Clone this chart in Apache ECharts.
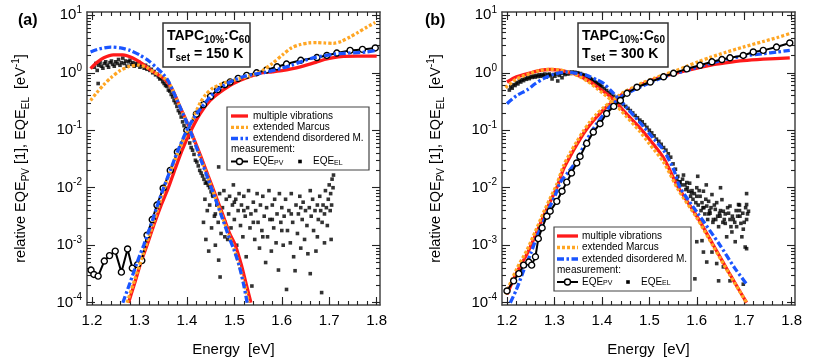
<!DOCTYPE html>
<html><head><meta charset="utf-8">
<script src="https://cdn.jsdelivr.net/npm/echarts@6/dist/echarts.min.js"></script>
<style>html,body{margin:0;padding:0;background:#fff}#c{width:830px;height:359px}</style>
</head><body><div id="c"></div>
<script>
// ---------- tick labels ----------
const xMajor = [1.2, 1.3, 1.4, 1.5, 1.6, 1.7, 1.8];
const yMajor = [1e-4, 1e-3, 1e-2, 1e-1, 1, 10];

// ---------- panel (a): T = 150 K ----------
const aMvEL = [[1.197,1.18],[1.21,1.5],[1.225,1.82],[1.245,2.05],[1.265,2.05],[1.285,1.82],[1.305,1.45],[1.323,1.12],[1.34,0.92],[1.355,0.75],[1.37,0.5],[1.385,0.26],[1.40,0.14],[1.415,0.07],[1.43,0.034],[1.445,0.016],[1.46,0.0075],[1.475,0.0035],[1.49,0.0016],[1.502,0.001],[1.515,0.00045],[1.525,0.00021],[1.535,0.0001]];
const aMarEL = [[1.197,0.33],[1.21,0.45],[1.225,0.62],[1.24,0.82],[1.26,1.1],[1.28,1.3],[1.298,1.36],[1.315,1.25],[1.33,1.02],[1.345,0.88],[1.36,0.72],[1.37,0.5],[1.385,0.26],[1.40,0.135],[1.415,0.066],[1.43,0.031],[1.445,0.0145],[1.46,0.0068],[1.475,0.0031],[1.49,0.0014],[1.50,0.00085],[1.512,0.0004],[1.522,0.0002],[1.53,0.0001]];
const aDisEL = [[1.197,2.3],[1.215,2.6],[1.24,2.8],[1.26,2.7],[1.28,2.45],[1.30,2.05],[1.32,1.6],[1.337,1.2],[1.35,0.95],[1.36,0.74],[1.37,0.5],[1.385,0.26],[1.40,0.135],[1.415,0.066],[1.43,0.03],[1.445,0.014],[1.46,0.0064],[1.475,0.0029],[1.49,0.0013],[1.50,0.0008],[1.51,0.00045],[1.52,0.0002],[1.527,0.0001]];
const aMvPV = [[1.277,0.0001],[1.29,0.00022],[1.303,0.0005],[1.316,0.001],[1.33,0.0022],[1.345,0.0048],[1.361,0.01],[1.375,0.021],[1.39,0.045],[1.407,0.093],[1.428,0.195],[1.449,0.33],[1.47,0.46],[1.498,0.65],[1.533,0.86],[1.554,0.98],[1.58,1.04],[1.603,1.1],[1.62,1.17],[1.639,1.27],[1.657,1.4],[1.674,1.55],[1.69,1.7],[1.709,1.84],[1.73,1.92],[1.76,1.95],[1.80,1.95]];
const aMarPV = [[1.274,0.0001],[1.29,0.00025],[1.31,0.0008],[1.33,0.0025],[1.353,0.01],[1.37,0.024],[1.39,0.06],[1.41,0.14],[1.428,0.3],[1.44,0.42],[1.456,0.55],[1.484,0.69],[1.512,0.79],[1.54,0.92],[1.56,1.1],[1.58,1.45],[1.603,2.1],[1.62,2.7],[1.639,3.1],[1.657,3.3],[1.674,3.35],[1.69,3.3],[1.709,3.25],[1.725,3.5],[1.744,4.2],[1.76,5.0],[1.779,6.2],[1.797,7.5]];
const aDisPV = [[1.265,0.0001],[1.28,0.00022],[1.295,0.0005],[1.309,0.001],[1.323,0.0021],[1.337,0.0047],[1.351,0.01],[1.365,0.02],[1.38,0.042],[1.40,0.1],[1.42,0.19],[1.449,0.38],[1.47,0.55],[1.498,0.74],[1.52,0.86],[1.54,0.94],[1.569,1.03],[1.6,1.2],[1.62,1.35],[1.64,1.55],[1.67,1.85],[1.709,2.1],[1.74,2.2],[1.779,2.3],[1.797,2.45]];
const aPV = [[1.198,3.7e-4],[1.204,3.1e-4],[1.213,2.9e-4],[1.226,5.3e-4],[1.237,6.6e-4],[1.249,7.9e-4],[1.262,3.4e-4],[1.275,8.6e-4],[1.285,4.0e-4],[1.296,4.6e-4],[1.305,5.4e-4],[1.316,1.5e-3],[1.327,2.8e-3],[1.337,5.0e-3],[1.35,0.0098],[1.365,0.02],[1.38,0.042],[1.40,0.1],[1.42,0.19],[1.435,0.28],[1.45,0.39],[1.465,0.51],[1.48,0.62],[1.491,0.69],[1.508,0.8],[1.526,0.9],[1.547,1.0],[1.568,1.12],[1.59,1.27],[1.61,1.42],[1.64,1.65],[1.674,1.84],[1.695,2.0],[1.716,2.2],[1.744,2.45],[1.77,2.55],[1.797,2.7]];
const aELpeak = [[1.205,1.25],[1.208,1.45],[1.211,1.1],[1.213,0.65],[1.214,1.35],[1.217,1.5],[1.22,1.3],[1.223,1.2],[1.226,1.45],[1.229,1.55],[1.232,1.35],[1.235,1.25],[1.238,1.5],[1.241,1.6],[1.244,1.4],[1.247,1.3],[1.25,1.55],[1.253,1.45],[1.256,1.7],[1.259,1.35],[1.262,1.5],[1.265,1.8],[1.268,1.45],[1.271,1.6],[1.274,1.3],[1.277,1.55],[1.28,1.65],[1.283,1.4],[1.286,1.5],[1.289,1.3],[1.292,1.45],[1.295,1.35],[1.298,1.55],[1.301,1.25],[1.304,1.4],[1.307,1.3],[1.31,1.2],[1.313,1.35],[1.316,1.15],[1.319,1.25],[1.322,1.1],[1.325,1.15],[1.328,1.0],[1.331,1.05],[1.334,0.92],[1.337,0.95],[1.34,0.85],[1.343,0.78],[1.346,0.8],[1.349,0.7],[1.352,0.65],[1.355,0.6],[1.358,0.58],[1.361,0.5],[1.364,0.48],[1.367,0.42],[1.37,0.38],[1.373,0.33],[1.376,0.3],[1.379,0.26],[1.382,0.22],[1.385,0.2],[1.388,0.17],[1.391,0.14],[1.394,0.12],[1.397,0.1],[1.40,0.085],[1.403,0.075],[1.406,0.06],[1.409,0.05],[1.412,0.045],[1.415,0.038],[1.418,0.03],[1.421,0.028],[1.424,0.024],[1.427,0.02],[1.43,0.018],[1.433,0.016],[1.436,0.014],[1.439,0.012],[1.442,0.0125],[1.445,0.011],[1.448,0.01],[1.451,0.0085],[1.454,0.0075]];
const aELtail = [[1.435,2.5e-3],[1.438,6.3e-3],[1.44,1.26e-3],[1.443,4.0e-3],[1.446,7.9e-4],[1.448,5.0e-3],[1.452,2.0e-3],[1.455,7.1e-3],[1.458,3.2e-3],[1.46,1.0e-3],[1.463,5.0e-3],[1.466,2.5e-3],[1.467,5.5e-4],[1.467,0.023],[1.469,7.9e-3],[1.47,2.8e-4],[1.472,1.6e-3],[1.475,4.5e-3],[1.478,8.9e-3],[1.48,2.5e-3],[1.483,6.3e-3],[1.486,1.26e-3],[1.488,3.5e-3],[1.49,7.1e-3],[1.493,2.0e-3],[1.496,5.0e-3],[1.498,0.0112],[1.5,2.8e-3],[1.503,6.3e-3],[1.505,1.0e-3],[1.508,4.0e-3],[1.51,7.9e-3],[1.513,2.2e-3],[1.515,5.0e-3],[1.518,1.4e-3],[1.52,7.1e-3],[1.523,3.2e-3],[1.525,6.3e-4],[1.528,4.5e-3],[1.53,8.9e-3],[1.533,2.0e-3],[1.535,3.5e-3],[1.537,1.95e-4],[1.54,5.6e-3],[1.543,1.26e-3],[1.545,4.0e-3],[1.548,7.9e-3],[1.55,2.5e-3],[1.553,8.9e-4],[1.555,5.0e-3],[1.558,1.8e-3],[1.56,7.1e-3],[1.563,3.2e-3],[1.566,5.0e-4],[1.568,4.5e-3],[1.57,1.4e-3],[1.573,8.9e-3],[1.575,2.8e-3],[1.578,7.9e-4],[1.58,5.0e-3],[1.583,2.0e-3],[1.585,6.3e-3],[1.588,1.1e-3],[1.59,3.5e-3],[1.593,3.7e-4],[1.595,7.9e-3],[1.598,2.5e-3],[1.6,4.5e-3],[1.603,1.0e-3],[1.605,3.2e-3],[1.608,6.3e-3],[1.61,1.7e-4],[1.612,1.8e-3],[1.615,4.0e-3],[1.618,1.1e-3],[1.62,7.9e-3],[1.623,2.5e-3],[1.625,6.3e-4],[1.628,3.6e-4],[1.63,5.0e-3],[1.633,1.6e-3],[1.635,3.5e-3],[1.638,7.1e-3],[1.64,8.9e-4],[1.643,2.8e-3],[1.645,5.6e-3],[1.648,1.26e-3],[1.65,4.0e-3],[1.653,2.2e-3],[1.655,7.1e-4],[1.658,4.5e-3],[1.66,3.2e-4],[1.662,3.2e-3],[1.665,6.3e-3],[1.667,1.8e-3],[1.67,4.0e-3],[1.672,7.9e-4],[1.675,5.0e-3],[1.677,2.8e-3],[1.68,7.1e-3],[1.682,4.0e-3],[1.684,1.5e-4],[1.685,2.5e-3],[1.687,5.0e-3],[1.69,3.5e-3],[1.692,8.9e-3],[1.694,4.5e-3],[1.696,2.2e-3],[1.698,6.3e-3],[1.7,0.0112],[1.702,4.0e-3],[1.703,7.9e-3],[1.705,5.0e-3],[1.706,0.0141],[1.708,0.01],[1.709,0.0166],[1.704,1.26e-3],[1.69,1.1e-3],[1.675,1.4e-3],[1.66,8.9e-3],[1.64,4.5e-3],[1.62,3.5e-3],[1.6,1.8e-3],[1.58,2.8e-3],[1.56,1.4e-3],[1.54,2.5e-3],[1.52,4.0e-3],[1.5,5.6e-3],[1.48,1.4e-3],[1.46,3.5e-3]];

// ---------- panel (b): T = 300 K ----------
const bMvEL = [[1.2,0.69],[1.22,0.85],[1.25,1.0],[1.27,1.1],[1.29,1.14],[1.31,1.11],[1.33,1.02],[1.35,0.9],[1.37,0.74],[1.39,0.57],[1.42,0.37],[1.45,0.2],[1.48,0.11],[1.50,0.07],[1.53,0.033],[1.56,0.0105],[1.6,0.0032],[1.635,0.001],[1.67,0.00031],[1.705,0.0001]];
const bMarEL = [[1.197,0.55],[1.22,0.78],[1.25,0.98],[1.27,1.1],[1.29,1.15],[1.31,1.12],[1.33,1.02],[1.35,0.88],[1.37,0.71],[1.39,0.53],[1.42,0.33],[1.45,0.18],[1.48,0.095],[1.50,0.058],[1.53,0.028],[1.56,0.0095],[1.6,0.003],[1.635,0.00095],[1.67,0.0003],[1.705,0.0001]];
const bDisEL = [[1.2,0.29],[1.22,0.4],[1.242,0.5],[1.26,0.65],[1.277,0.79],[1.3,0.95],[1.326,1.03],[1.35,0.97],[1.368,0.9],[1.39,0.75],[1.404,0.65],[1.42,0.48],[1.45,0.26],[1.488,0.115],[1.51,0.07],[1.53,0.045],[1.551,0.021],[1.565,0.01],[1.6,0.0038],[1.649,0.001],[1.68,0.0004],[1.707,0.0002]];
const bMvPV = [[1.2,1.4e-4],[1.22,3.3e-4],[1.242,7e-4],[1.26,1.5e-3],[1.277,3.2e-3],[1.29,5.5e-3],[1.305,0.01],[1.319,0.021],[1.333,0.035],[1.347,0.056],[1.361,0.087],[1.375,0.125],[1.389,0.17],[1.404,0.23],[1.418,0.29],[1.432,0.36],[1.446,0.44],[1.467,0.53],[1.488,0.65],[1.51,0.77],[1.53,0.87],[1.555,0.98],[1.579,1.1],[1.603,1.22],[1.628,1.35],[1.66,1.48],[1.698,1.62],[1.74,1.72],[1.796,1.82]];
const bMarPV = [[1.197,1.4e-4],[1.22,3.8e-4],[1.242,8.2e-4],[1.26,1.75e-3],[1.277,3.7e-3],[1.29,6.3e-3],[1.305,0.0115],[1.319,0.024],[1.333,0.04],[1.347,0.063],[1.361,0.097],[1.375,0.14],[1.389,0.19],[1.404,0.25],[1.418,0.31],[1.432,0.38],[1.446,0.46],[1.467,0.56],[1.488,0.68],[1.51,0.8],[1.53,0.92],[1.555,1.08],[1.579,1.3],[1.603,1.55],[1.628,1.85],[1.66,2.25],[1.698,2.8],[1.74,3.5],[1.77,4.1],[1.796,4.8]];
const bDisPV = [[1.207,1e-4],[1.22,1.7e-4],[1.235,3.6e-4],[1.25,7.2e-4],[1.263,1.4e-3],[1.277,2.6e-3],[1.291,4.8e-3],[1.302,7.5e-3],[1.312,0.0123],[1.33,0.019],[1.347,0.03],[1.368,0.068],[1.389,0.13],[1.404,0.19],[1.418,0.26],[1.432,0.33],[1.446,0.41],[1.467,0.5],[1.488,0.6],[1.51,0.72],[1.53,0.83],[1.555,0.98],[1.579,1.1],[1.603,1.27],[1.628,1.45],[1.66,1.7],[1.698,1.95],[1.74,2.15],[1.77,2.3],[1.796,2.45]];
const bPV = [[1.2,1.6e-4],[1.214,2.4e-4],[1.225,3.2e-4],[1.235,4.5e-4],[1.246,5.1e-4],[1.252,4.5e-4],[1.26,6.3e-4],[1.266,1.3e-3],[1.274,2.0e-3],[1.284,3.2e-3],[1.291,3.9e-3],[1.305,5.8e-3],[1.316,8.7e-3],[1.326,0.0125],[1.336,0.018],[1.347,0.027],[1.354,0.035],[1.368,0.059],[1.382,0.093],[1.396,0.13],[1.41,0.195],[1.425,0.26],[1.439,0.33],[1.453,0.44],[1.474,0.56],[1.502,0.69],[1.53,0.85],[1.551,0.98],[1.579,1.17],[1.607,1.35],[1.632,1.55],[1.653,1.7],[1.67,1.82],[1.698,2.0],[1.719,2.3],[1.74,2.45],[1.768,2.8],[1.796,3.3]];
const bELpeak = [[1.205,0.5],[1.208,0.57],[1.211,0.54],[1.214,0.62],[1.217,0.6],[1.22,0.67],[1.223,0.64],[1.226,0.72],[1.229,0.69],[1.232,0.76],[1.235,0.73],[1.238,0.8],[1.241,0.77],[1.244,0.83],[1.247,0.79],[1.25,0.86],[1.253,0.83],[1.256,0.88],[1.259,0.84],[1.262,0.9],[1.265,0.86],[1.268,0.92],[1.271,0.87],[1.274,0.93],[1.277,0.89],[1.28,0.95],[1.283,0.84],[1.286,0.92],[1.289,0.95],[1.292,0.89],[1.295,0.78],[1.298,0.93],[1.301,0.87],[1.304,0.96],[1.307,0.72],[1.31,0.9],[1.313,0.97],[1.316,0.82],[1.319,0.99],[1.322,0.93],[1.325,1.0],[1.328,0.95],[1.331,1.02],[1.334,0.97],[1.337,1.03],[1.34,1.0],[1.343,1.02],[1.346,0.98],[1.349,1.0],[1.352,0.96],[1.355,0.97],[1.358,0.93],[1.361,0.91],[1.364,0.9],[1.367,0.87],[1.37,0.85],[1.373,0.81],[1.376,0.79],[1.379,0.76],[1.382,0.73],[1.385,0.7],[1.388,0.67],[1.391,0.65],[1.394,0.62],[1.397,0.6],[1.4,0.57],[1.405,0.53],[1.41,0.49],[1.415,0.45],[1.42,0.42],[1.425,0.39],[1.43,0.36],[1.435,0.33],[1.44,0.3],[1.445,0.28],[1.45,0.26],[1.455,0.24],[1.46,0.22],[1.465,0.2],[1.47,0.18],[1.475,0.165],[1.48,0.15],[1.485,0.14],[1.49,0.125],[1.495,0.112],[1.5,0.1],[1.505,0.09],[1.51,0.08],[1.515,0.07],[1.52,0.064],[1.525,0.057],[1.53,0.05],[1.535,0.045],[1.54,0.039],[1.545,0.034],[1.55,0.026],[1.555,0.021]];
const bELtail = [[1.558,0.0141],[1.56,0.0158],[1.563,0.0126],[1.565,0.0126],[1.568,0.0112],[1.57,0.0141],[1.572,0.0166],[1.575,0.0112],[1.577,0.0093],[1.579,0.0123],[1.58,0.01],[1.583,0.0087],[1.585,0.012],[1.587,0.0071],[1.589,0.0081],[1.59,0.0089],[1.592,0.0063],[1.595,0.0079],[1.596,0.00026],[1.598,0.0055],[1.6,0.01],[1.6,0.0071],[1.6,0.00115],[1.602,0.0158],[1.603,0.005],[1.605,0.0089],[1.607,0.0071],[1.609,0.004],[1.611,0.0055],[1.611,0.0012],[1.613,0.0045],[1.614,0.0087],[1.614,0.00076],[1.615,0.0045],[1.617,0.0035],[1.619,0.0063],[1.62,0.0112],[1.621,0.0048],[1.621,0.00051],[1.623,0.0028],[1.625,0.0058],[1.625,0.0035],[1.627,0.004],[1.628,0.0036],[1.63,0.0045],[1.632,0.0076],[1.632,0.00076],[1.634,0.0025],[1.635,0.0028],[1.637,0.005],[1.639,0.0042],[1.64,0.0028],[1.642,0.0055],[1.642,0.00048],[1.644,0.0032],[1.646,0.0021],[1.646,0.00024],[1.648,0.0036],[1.649,0.0032],[1.65,0.004],[1.65,0.01],[1.653,0.0062],[1.655,0.0025],[1.656,0.0039],[1.656,0.00042],[1.658,0.0028],[1.66,0.0024],[1.66,0.0035],[1.663,0.0014],[1.665,0.0045],[1.667,0.0036],[1.67,0.0048],[1.67,0.00024],[1.67,0.0028],[1.672,0.0021],[1.674,0.0017],[1.675,0.0032],[1.677,0.0028],[1.68,0.0025],[1.681,0.00115],[1.683,0.004],[1.684,0.0021],[1.686,0.0032],[1.688,0.0051],[1.69,0.004],[1.69,0.005],[1.691,0.0032],[1.693,0.0024],[1.695,0.0014],[1.697,0.0036],[1.698,0.0019],[1.698,0.00021],[1.7,0.0025],[1.702,0.00093],[1.703,0.0045],[1.705,0.0028],[1.705,0.0051],[1.705,0.00087],[1.705,0.0079],[1.707,0.0035],[1.709,0.0039]];

// ---------- styling / layout ----------
const FONT = '"Liberation Sans", Arial, Helvetica, sans-serif';
const X_MIN = 1.1895, X_MAX = 1.807;
const Y_MIN = 9.12e-5, Y_MAX = 11.4;
const RED = '#ff1a1a', ORANGE = '#ffa624', BLUE = '#1a55ff';
const xMinor = []; for (let i = 0; i <= 30; i++) xMinor.push(+(1.2 + i * 0.02).toFixed(2));
const yMinor = []; for (let k = -4; k <= 0; k++) for (let m = 2; m <= 9; m++) yMinor.push(+(m * Math.pow(10, k)).toPrecision(3));

const FRAME = {color: '#444', width: 1.5};
const TICK = {color: '#222', width: 1.1};

function axesFor(g) {
  const xb = {type: 'value', gridIndex: g, min: X_MIN, max: X_MAX, splitLine: {show: false}, axisLabel: {show: false}, axisPointer: {show: false}};
  const yb = {type: 'log', logBase: 10, gridIndex: g, min: Y_MIN, max: Y_MAX, splitLine: {show: false}, axisLabel: {show: false}, axisPointer: {show: false}};
  const xs = [
    Object.assign({}, xb, {position: 'bottom', axisLine: {show: true, onZero: false, lineStyle: FRAME},
      axisTick: {show: true, inside: true, length: 8, customValues: xMajor, lineStyle: TICK},
      axisLabel: {show: true, customValues: xMajor, formatter: v => (+v).toFixed(1), margin: 8, fontSize: 15, color: '#000', fontFamily: FONT},
      name: 'Energy  [eV]', nameLocation: 'middle', nameGap: 37, nameMoveOverlap: false,
      nameTextStyle: {fontSize: 15, color: '#000', fontFamily: FONT}}),
    Object.assign({}, xb, {position: 'bottom', axisLine: {show: false, onZero: false}, axisTick: {show: true, inside: true, length: 4, customValues: xMinor, lineStyle: TICK}}),
    Object.assign({}, xb, {position: 'top', axisLine: {show: true, onZero: false, lineStyle: FRAME}, axisTick: {show: true, inside: true, length: 8, customValues: xMajor, lineStyle: TICK}}),
    Object.assign({}, xb, {position: 'top', axisLine: {show: false, onZero: false}, axisTick: {show: true, inside: true, length: 4, customValues: xMinor, lineStyle: TICK}})
  ];
  const ys = [
    Object.assign({}, yb, {position: 'left', axisLine: {show: true, onZero: false, lineStyle: FRAME},
      axisTick: {show: true, inside: true, length: 8, customValues: yMajor, lineStyle: TICK},
      axisLabel: {show: true, customValues: yMajor, margin: 5,
        formatter: v => '{m|10}{e|' + Math.round(Math.log10(v)) + '}',
        rich: {m: {fontSize: 15, lineHeight: 20, color: '#000', fontFamily: FONT}, e: {fontSize: 10, verticalAlign: 'top', color: '#000', fontFamily: FONT}}},
      name: '{t|relative EQE}{d|PV}{t| [1], EQE}{d|EL}{t|  [eV}{u|-1}{t|]}', nameLocation: 'middle', nameGap: 56, nameMoveOverlap: false,
      nameTextStyle: {rich: {t: {fontSize: 14.5, lineHeight: 20, color: '#000', fontFamily: FONT}, d: {fontSize: 10, verticalAlign: 'bottom', color: '#000', fontFamily: FONT}, u: {fontSize: 10, verticalAlign: 'top', color: '#000', fontFamily: FONT}}}}),
    Object.assign({}, yb, {position: 'left', axisLine: {show: false, onZero: false}, axisTick: {show: true, inside: true, length: 4, customValues: yMinor, lineStyle: TICK}}),
    Object.assign({}, yb, {position: 'right', axisLine: {show: true, onZero: false, lineStyle: FRAME}, axisTick: {show: true, inside: true, length: 8, customValues: yMajor, lineStyle: TICK}}),
    Object.assign({}, yb, {position: 'right', axisLine: {show: false, onZero: false}, axisTick: {show: true, inside: true, length: 4, customValues: yMinor, lineStyle: TICK}})
  ];
  return {xs, ys};
}

function model(name, data, color, dash, g, z) {
  return {type: 'line', name, data, xAxisIndex: 4 * g, yAxisIndex: 4 * g, symbol: 'none', showSymbol: false, smooth: 0.25,
    lineStyle: {color, width: 3.3, type: dash, cap: 'butt'}, z, silent: true, animation: false};
}
function measuredPV(data, g, z) {
  return {type: 'line', name: 'EQE_PV', data, xAxisIndex: 4 * g, yAxisIndex: 4 * g, symbol: 'circle', symbolSize: 6, showSymbol: true,
    itemStyle: {color: '#fff', borderColor: '#000', borderWidth: 1.4}, lineStyle: {color: '#000', width: 2}, z, silent: true, animation: false};
}
function measuredEL(data, g) {
  return {type: 'scatter', name: 'EQE_EL', data, xAxisIndex: 4 * g, yAxisIndex: 4 * g, symbol: 'rect', symbolSize: 3.6,
    itemStyle: {color: '#000'}, z: 2, silent: true, animation: false};
}

const A = axesFor(0), B = axesFor(1);
const DOT = [3, 2], DASHDOT = [7, 2.5, 2.5, 2.5];

const series = [
  measuredEL(aELpeak.concat(aELtail), 0),
  model('multiple vibrations', aMvEL, RED, 'solid', 0, 3),
  model('multiple vibrations', aMvPV, RED, 'solid', 0, 3),
  measuredPV(aPV, 0, 3.5),
  model('extended Marcus', aMarEL, ORANGE, DOT, 0, 4),
  model('extended Marcus', aMarPV, ORANGE, DOT, 0, 4),
  model('extendend disordered M.', aDisEL, BLUE, DASHDOT, 0, 4),
  model('extendend disordered M.', aDisPV, BLUE, DASHDOT, 0, 4),
  measuredEL(bELpeak.concat(bELtail), 1),
  model('multiple vibrations', bMvEL, RED, 'solid', 1, 3),
  model('multiple vibrations', bMvPV, RED, 'solid', 1, 3),
  model('extended Marcus', bMarEL, ORANGE, DOT, 1, 4),
  model('extended Marcus', bMarPV, ORANGE, DOT, 1, 4),
  model('extended disordered M.', bDisEL, BLUE, DASHDOT, 1, 4),
  model('extended disordered M.', bDisPV, BLUE, DASHDOT, 1, 4),
  measuredPV(bPV, 1, 5)
];

// ---------- annotations (legend boxes, labels) ----------
function txt(x, y, text, opts) {
  return Object.assign({type: 'text', x, y, z: 100, silent: true,
    style: Object.assign({text, fill: '#000', fontSize: 10, fontFamily: FONT, align: 'left', verticalAlign: 'middle', textAlign: 'left', textVerticalAlign: 'middle'}, opts || {})});
}
function seg(x1, x2, y, color, width, dash) {
  return {type: 'line', z: 100, silent: true, shape: {x1, y1: y, x2, y2: y}, style: {stroke: color, lineWidth: width, lineDash: dash || null}};
}
const subRich = {t: {fontSize: 10, fontFamily: FONT, color: '#000'}, d: {fontSize: 7, verticalAlign: 'bottom', fontFamily: FONT, color: '#000'}};
function legendBlock(bx, by, bw, bh, cy, sx1, sx2, tx, sqx, elx, disName) {
  return [
    {type: 'rect', z: 99, silent: true, shape: {x: bx, y: by, width: bw, height: bh}, style: {fill: '#fff', stroke: '#444', lineWidth: 1.2}},
    seg(sx1, sx2, cy[0], RED, 3.3),
    txt(tx, cy[0], 'multiple vibrations'),
    seg(sx1, sx2, cy[1], ORANGE, 3.3, DOT),
    txt(tx, cy[1], 'extended Marcus'),
    seg(sx1, sx2, cy[2], BLUE, 3.3, DASHDOT),
    txt(tx, cy[2], disName),
    txt(sx1, cy[3], 'measurement:'),
    seg(sx1, sx2, cy[4], '#000', 2),
    {type: 'circle', z: 101, silent: true, shape: {cx: (sx1 + sx2) / 2, cy: cy[4], r: 3}, style: {fill: '#fff', stroke: '#000', lineWidth: 1.4}},
    txt(tx, cy[4], '{t|EQE}{d|PV}', {rich: subRich}),
    {type: 'rect', z: 101, silent: true, shape: {x: sqx - 1.8, y: cy[4] - 1.8, width: 3.6, height: 3.6}, style: {fill: '#000'}},
    txt(elx, cy[4], '{t|EQE}{d|EL}', {rich: subRich})
  ];
}
const boxRich = {b: {fontSize: 14, fontWeight: 'bold', lineHeight: 18.5, fontFamily: FONT, color: '#000'}, s: {fontSize: 10, fontWeight: 'bold', verticalAlign: 'bottom', fontFamily: FONT, color: '#000'}};
function infoBox(bx, bw, temp) {
  return [
    {type: 'rect', z: 99, silent: true, shape: {x: bx, y: 23, width: bw, height: 44}, style: {fill: '#fff', stroke: '#333', lineWidth: 1.5}},
    txt(bx + 4, 45, '{b|TAPC}{s|10%}{b|:C}{s|60}\n{b|T}{s|set}{b| = ' + temp + '}', {rich: boxRich})
  ];
}
const graphic = [].concat(
  [txt(18, 21, '(a)', {fontSize: 16, fontWeight: 'bold'}), txt(425, 21, '(b)', {fontSize: 16, fontWeight: 'bold'})],
  infoBox(163, 87, '150 K'),
  infoBox(578, 90, '300 K'),
  legendBlock(227, 107, 142, 63, [116, 127.3, 138.5, 149.7, 161.5], 231, 248, 253, 300, 313, 'extendend disordered M.'),
  legendBlock(554, 227, 137, 64, [236, 247.5, 259, 270.5, 282], 557, 578, 582, 628, 641, 'extended disordered M.')
);

const chart = echarts.init(document.getElementById('c'), null, {renderer: 'canvas'});
chart.setOption({
  animation: false,
  backgroundColor: '#fff',
  textStyle: {fontFamily: FONT},
  grid: [
    {left: 87, top: 12, width: 293, height: 293, containLabel: false, outerBoundsMode: 'none'},
    {left: 502, top: 12, width: 293, height: 293, containLabel: false, outerBoundsMode: 'none'}
  ],
  xAxis: A.xs.concat(B.xs),
  yAxis: A.ys.concat(B.ys),
  series,
  graphic
});
</script></body></html>
